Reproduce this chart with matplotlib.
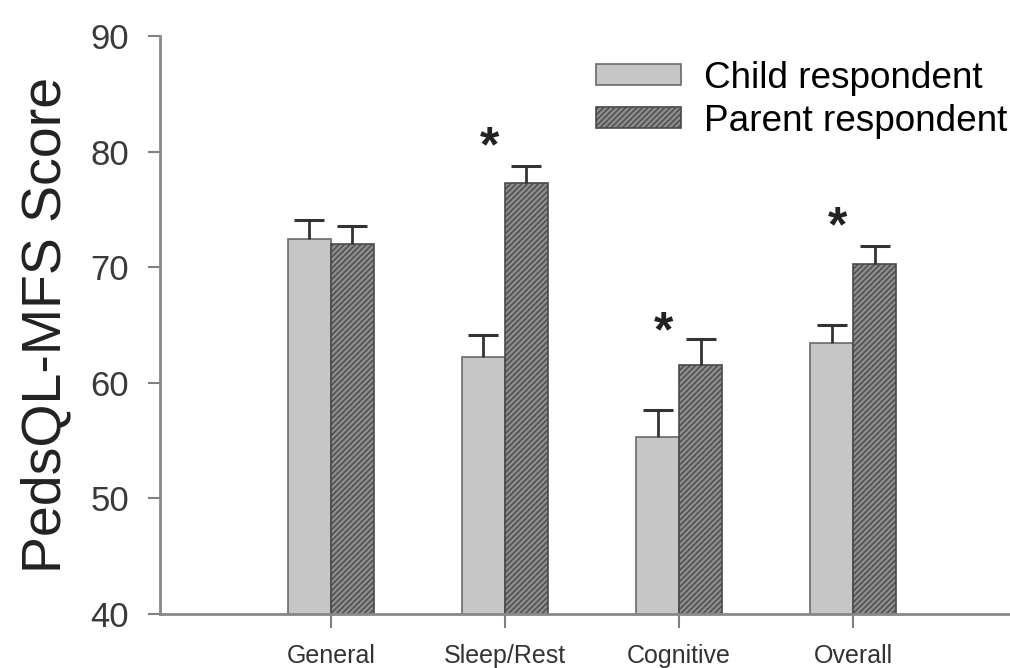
import numpy as np
import matplotlib.pyplot as plt

plt.rcParams['font.family'] = ['Liberation Sans', 'DejaVu Sans']
plt.rcParams['hatch.color'] = '#3a3a3a'
plt.rcParams['hatch.linewidth'] = 1.0

categories = ['General', 'Sleep/Rest', 'Cognitive', 'Overall']
child = [72.4, 62.2, 55.3, 63.4]
child_err = [1.7, 1.9, 2.3, 1.6]
parent = [72.0, 77.3, 61.5, 70.3]
parent_err = [1.6, 1.5, 2.3, 1.5]
star_y = [None, 80.3, 64.3, 73.4]

x = np.arange(len(categories))
w = 0.247

fig = plt.figure(figsize=(10.1, 6.68), dpi=100)
ax = fig.add_axes([0.158, 0.081, 0.842, 0.865])

ax.bar(x - w/2, child, w, color='#c6c6c6', edgecolor='#6a6a6a', linewidth=1.2,
       label='Child respondent')
ax.bar(x + w/2, parent, w, color='#8c8c8c', edgecolor='#4a4a4a', linewidth=1.2,
       hatch='//////', label='Parent respondent')
for xs, vals, errs in [(x - w/2, child, child_err), (x + w/2, parent, parent_err)]:
    eb = ax.errorbar(xs, vals, yerr=[np.zeros(4), errs], fmt='none',
                     ecolor='#333333', elinewidth=2, capsize=11, capthick=2.2)
    eb[1][0].set_visible(False)

for i, sy in enumerate(star_y):
    if sy is not None:
        ax.text(i - 0.09, sy, '*', ha='center', va='center', fontsize=36,
                fontweight='bold', color='#222222')

ax.set_ylim(40, 90)
ax.set_xlim(-0.983, 3.9)
ax.set_yticks([40, 50, 60, 70, 80, 90])
ax.set_xticks(x)
ax.set_xticklabels(categories, fontsize=18, color='#333333')
ax.tick_params(axis='y', labelsize=25, colors='#808080', labelcolor='#3a3a3a',
               length=9, width=1.5, direction='out', pad=13)
ax.tick_params(axis='x', colors='#808080', labelcolor='#333333',
               length=10, width=1.5, direction='out', pad=12)
ax.set_ylabel('PedsQL-MFS Score', fontsize=40, color='#222222')
ax.yaxis.set_label_coords(-0.102, 0.5)

for s in ['top', 'right']:
    ax.spines[s].set_visible(False)
for s in ['left', 'bottom']:
    ax.spines[s].set_color('#888888')
    ax.spines[s].set_linewidth(2)

ax.legend(loc='upper right', bbox_to_anchor=(1.016, 0.986), frameon=False,
          fontsize=26.6, handlelength=2.3, handleheight=0.48, handletextpad=0.6,
          labelspacing=0.22, borderaxespad=0.05)

fig.savefig('out.png', dpi=100)
